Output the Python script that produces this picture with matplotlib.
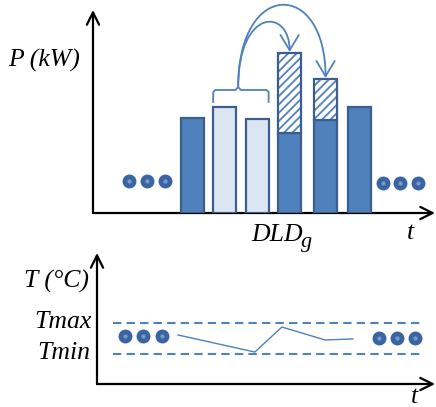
import numpy as np
import matplotlib
matplotlib.use("Agg")
import matplotlib.pyplot as plt
from matplotlib.patches import FancyArrowPatch
from matplotlib.path import Path

# Power profile: base load per slot, shifted load on top of slots 4 and 5
slot_x = [2.9, 3.85, 4.8, 5.75, 6.8, 7.8]
base_p = [4.68, 5.22, 4.63, 3.94, 4.58, 5.22]
shifted_p = [0, 0, 0, 3.94, 2.02, 0]
is_deferred = [False, True, True, False, False, False]

dots_top_left_x = [1.05, 1.58, 2.11]
dots_top_left_y = [1.58, 1.58, 1.58]
dots_top_right_x = [8.48, 8.98, 9.50]
dots_top_right_y = [1.48, 1.48, 1.48]

# Indoor temperature trace and comfort band
temp_t = [2.40, 4.67, 5.47, 6.75, 7.57]
temp_v = [3.74, 2.44, 4.35, 3.36, 3.44]
t_max = 4.66
t_min = 2.29
dots_bot_left_x = [0.83, 1.36, 1.92]
dots_bot_left_y = [3.66, 3.66, 3.66]
dots_bot_right_x = [8.34, 8.88, 9.41]
dots_bot_right_y = [3.51, 3.51, 3.51]

BLUE = "#4F81BD"
EDGE = "#3A5F8F"
LIGHT = "#DCE6F2"
DOT = "#3A64A2"

plt.rcParams["hatch.linewidth"] = 1.3
SERIF = "Liberation Serif"

fig = plt.figure(figsize=(4.36, 4.07), dpi=100)
W, H = 436, 407
ax = fig.add_axes([93 / W, 1 - 213 / H, (435 - 93) / W, (213 - 10) / H])
ax2 = fig.add_axes([97 / W, 1 - 384 / H, (435 - 97) / W, (384 - 253) / H])

for a in (ax, ax2):
    a.set_xlim(0, 10)
    a.set_ylim(0, 10)
    a.axis("off")
    a.annotate("", xy=(1, 0), xytext=(0, 0), xycoords="axes fraction",
               arrowprops=dict(arrowstyle="->", lw=1.6, color="black",
                               mutation_scale=22, shrinkA=0, shrinkB=0),
               annotation_clip=False)
    a.annotate("", xy=(0, 1), xytext=(0, 0), xycoords="axes fraction",
               arrowprops=dict(arrowstyle="->", lw=1.6, color="black",
                               mutation_scale=22, shrinkA=0, shrinkB=0),
               annotation_clip=False)

# bars
w = 0.67
for x, p, s, light in zip(slot_x, base_p, shifted_p, is_deferred):
    ax.bar(x, p, width=w, color=LIGHT if light else BLUE, edgecolor=EDGE,
           lw=1.6, zorder=3)
    if s > 0:
        ax.bar(x, s, width=w, bottom=p, color="white", edgecolor=BLUE,
               lw=0, hatch="////", zorder=3)
        ax.bar(x, s, width=w, bottom=p, fill=False, edgecolor=EDGE,
               lw=1.6, zorder=4)


def dots(a, xs, ys):
    a.plot(xs, ys, "o", color=DOT, ms=9, mec=DOT, ls="none", zorder=5)
    a.plot(xs, ys, "o", color="#7C9ACB", ms=2, ls="none", zorder=6)


dots(ax, dots_top_left_x, dots_top_left_y)
dots(ax, dots_top_right_x, dots_top_right_y)

# brace over the deferred slots
bx0 = slot_x[1] - w / 2
bx1 = slot_x[2] + w / 2
bxm = (bx0 + bx1) / 2 - 0.08
yb, yt, ytip = 5.47, 6.06, 6.2
brace_x = [bx0, bx0, bx0 + 0.06, bxm - 0.08, bxm, bxm + 0.08, bx1 - 0.06, bx1, bx1]
brace_y = [yb, yt - 0.1, yt, yt, ytip, yt, yt, yt - 0.1, yb]
ax.plot(brace_x, brace_y, color=BLUE, lw=1.3, zorder=5)

# curved arrows from the brace to the shifted load blocks
for k, ctrl in [(3, 10.13), (4, 11.52)]:
    tip = (slot_x[k], base_p[k] + shifted_p[k] + 0.05)
    verts = [(bxm, ytip), (bxm, ctrl), (tip[0], ctrl), tip]
    codes = [Path.MOVETO, Path.CURVE4, Path.CURVE4, Path.CURVE4]
    arr = FancyArrowPatch(path=Path(verts, codes),
                          arrowstyle="->,head_length=0.55,head_width=0.33",
                          mutation_scale=20, color=BLUE, lw=1.3,
                          clip_on=False, zorder=6)
    ax.add_patch(arr)

txt = dict(family=SERIF, style="italic", fontsize=18.5, color="black")
fig.text(8 / W, 1 - 60 / H, "P (kW)", va="center", ha="left", **txt)
fig.text(251 / W, 1 - 235 / H, "DLD", va="center", ha="left", **txt)
fig.text(301 / W, 1 - 243 / H, "g", va="center", ha="left",
         **dict(txt, fontsize=16))
fig.text(410 / W, 1 - 233 / H, "t", va="center", ha="center", **txt)

# temperature panel
ax2.plot([0.47, 9.62], [t_max, t_max], ls=(0, (4, 2.5)), color=BLUE, lw=1.5)
ax2.plot([0.47, 9.62], [t_min, t_min], ls=(0, (4, 2.5)), color=BLUE, lw=1.5)
ax2.plot(temp_t, temp_v, color=BLUE, lw=1.0)
dots(ax2, dots_bot_left_x, dots_bot_left_y)
dots(ax2, dots_bot_right_x, dots_bot_right_y)

fig.text(24 / W, 1 - 281 / H, "T (°C)", va="center", ha="left", **txt)
fig.text(92 / W, 1 - 322 / H, "Tmax", va="center", ha="right", **txt)
fig.text(90 / W, 1 - 353 / H, "Tmin", va="center", ha="right", **txt)
fig.text(414 / W, 1 - 397 / H, "t", va="center", ha="center", **txt)

fig.savefig("out.png", dpi=100)
